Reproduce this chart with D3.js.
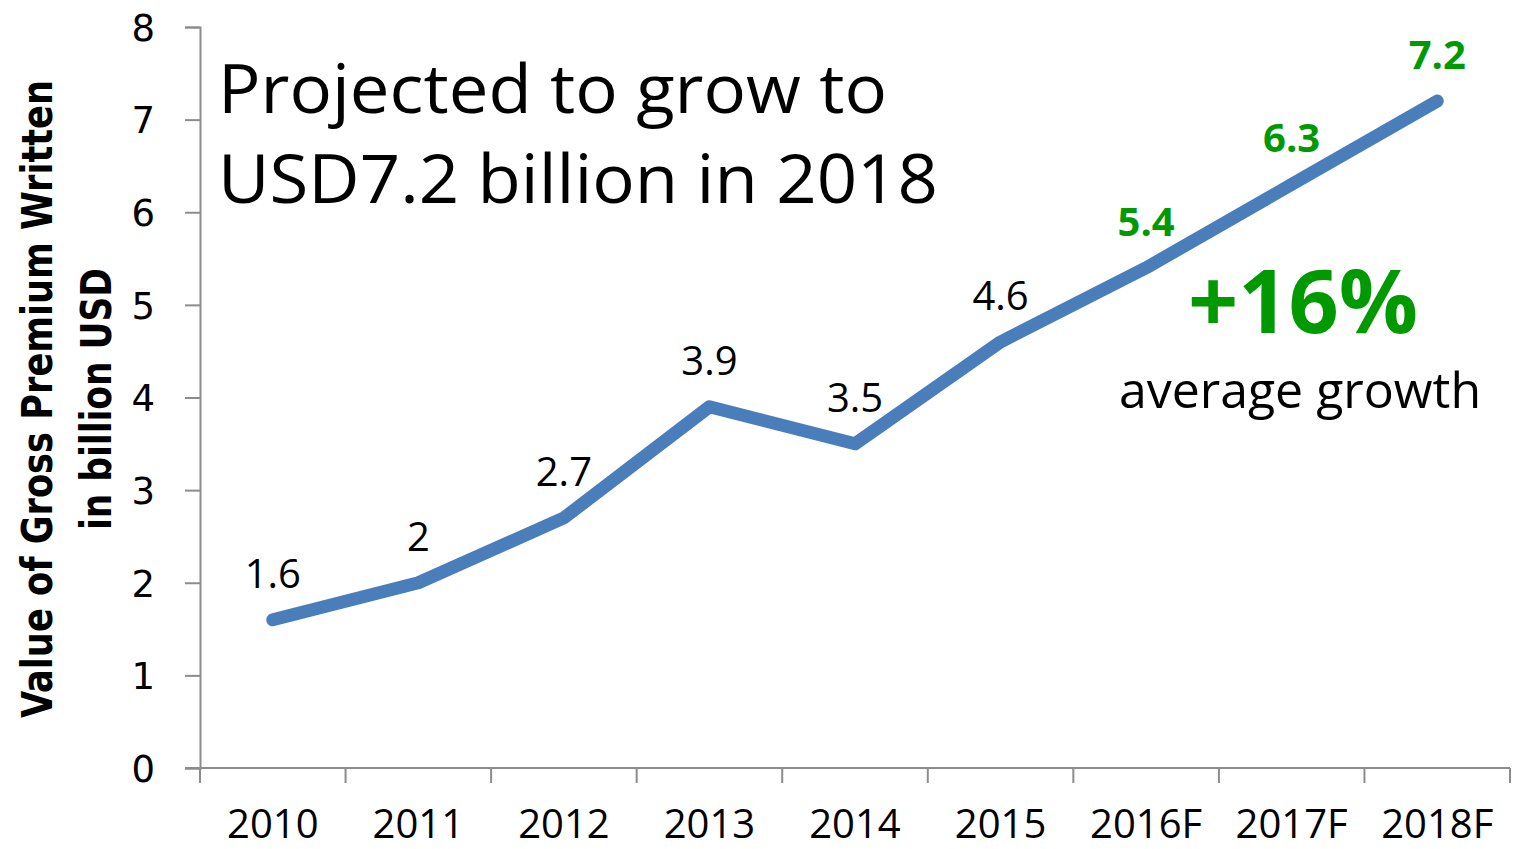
<!DOCTYPE html>
<html>
<head>
<meta charset="utf-8">
<script src="https://cdn.jsdelivr.net/npm/d3@7"></script>
<style>
  html, body { margin: 0; padding: 0; background: #fff; }
  svg { display: block; }
</style>
</head>
<body>
<svg id="chart" width="1513" height="849"></svg>
<script>
// Gross premium written, billion USD (2016–2018 are forecasts)
const years = ["2010", "2011", "2012", "2013", "2014", "2015", "2016F", "2017F", "2018F"];
const premium = [1.6, 2, 2.7, 3.9, 3.5, 4.6, 5.4, 6.3, 7.2];
const forecast = [false, false, false, false, false, false, true, true, true];
const yTicks = [0, 1, 2, 3, 4, 5, 6, 7, 8];

const svg = d3.select("#chart");
const plotLeft = 200, plotRight = 1510, plotTop = 27, plotBottom = 768;

const x = d3.scalePoint().domain(years).range([plotLeft, plotRight]).padding(0.5);
const xBand = d3.scaleBand().domain(years).range([plotLeft, plotRight]);
const y = d3.scaleLinear().domain([0, 8]).range([plotBottom, plotTop]);

const axisColor = "#8c8c8c";
const tickFont = "'DejaVu Sans', Verdana, sans-serif";
const textFont = "'Open Sans', 'Noto Sans', sans-serif";

// Y axis
const yAxis = svg.append("g").attr("transform", `translate(${plotLeft},0)`)
  .call(d3.axisLeft(y).tickValues(yTicks).tickSize(15).tickPadding(30).tickFormat(d3.format("d")));
yAxis.select(".domain").attr("stroke", axisColor).attr("stroke-width", 2);
yAxis.selectAll(".tick line").attr("stroke", axisColor).attr("stroke-width", 2);
yAxis.selectAll(".tick text").attr("font-family", tickFont).attr("font-size", 37).attr("fill", "#000").attr("dy", "0.36em");

// X axis: ticks at category boundaries, labels centred on categories
const xg = svg.append("g");
xg.append("line").attr("x1", plotLeft - 15).attr("x2", plotRight).attr("y1", plotBottom).attr("y2", plotBottom)
  .attr("stroke", axisColor).attr("stroke-width", 2);
const bounds = years.map(d => xBand(d)).concat([plotRight]);
xg.selectAll("line.tick").data(bounds).join("line").attr("class", "tick")
  .attr("x1", d => d).attr("x2", d => d).attr("y1", plotBottom).attr("y2", plotBottom + 15)
  .attr("stroke", axisColor).attr("stroke-width", 2);
xg.selectAll("text").data(years).join("text")
  .attr("x", d => x(d)).attr("y", 838).attr("text-anchor", "middle")
  .attr("font-family", textFont).attr("font-size", 40).attr("fill", "#000")
  .text(d => d);

// Y axis title
const yt = svg.append("g").attr("font-family", "'Liberation Sans Narrow', 'DejaVu Sans Condensed', sans-serif")
  .attr("font-weight", "bold").attr("font-size", 42).attr("fill", "#000").attr("text-anchor", "middle");
yt.append("text").attr("transform", "translate(52,399) rotate(-90)")
  .attr("textLength", 638).attr("lengthAdjust", "spacingAndGlyphs").text("Value of Gross Premium Written");
yt.append("text").attr("transform", "translate(111,399) rotate(-90)")
  .attr("textLength", 262).attr("lengthAdjust", "spacingAndGlyphs").text("in billion USD");

// Line
const pts = years.map((d, i) => ({ year: d, v: premium[i], f: forecast[i] }));
svg.append("path").datum(pts)
  .attr("fill", "none").attr("stroke", "#4a7ebb").attr("stroke-width", 13)
  .attr("stroke-linecap", "round").attr("stroke-linejoin", "round")
  .attr("d", d3.line().x(d => x(d.year)).y(d => y(d.v)));

// Value labels
svg.selectAll("text.val").data(pts).join("text").attr("class", "val")
  .attr("x", d => x(d.year)).attr("y", d => y(d.v) - 32).attr("text-anchor", "middle")
  .attr("font-family", textFont).attr("font-size", 40)
  .attr("font-weight", d => d.f ? "bold" : "normal")
  .attr("fill", d => d.f ? "#009900" : "#000")
  .text(d => d.v);

// Headline
const head = svg.append("g").attr("font-family", textFont).attr("font-size", 68).attr("fill", "#000");
head.append("text").attr("x", 218).attr("y", 113).attr("textLength", 669).attr("lengthAdjust", "spacingAndGlyphs")
  .text("Projected to grow to");
head.append("text").attr("x", 218).attr("y", 203).attr("textLength", 720).attr("lengthAdjust", "spacingAndGlyphs")
  .text("USD7.2 billion in 2018");

// Growth callout
svg.append("text").attr("x", 1303).attr("y", 333).attr("text-anchor", "middle")
  .attr("font-family", textFont).attr("font-weight", "bold").attr("font-size", 88).attr("fill", "#009900")
  .text("+16%");
svg.append("text").attr("x", 1300).attr("y", 408).attr("text-anchor", "middle")
  .attr("font-family", textFont).attr("font-size", 50).attr("fill", "#000")
  .text("average growth");
</script>
</body>
</html>
